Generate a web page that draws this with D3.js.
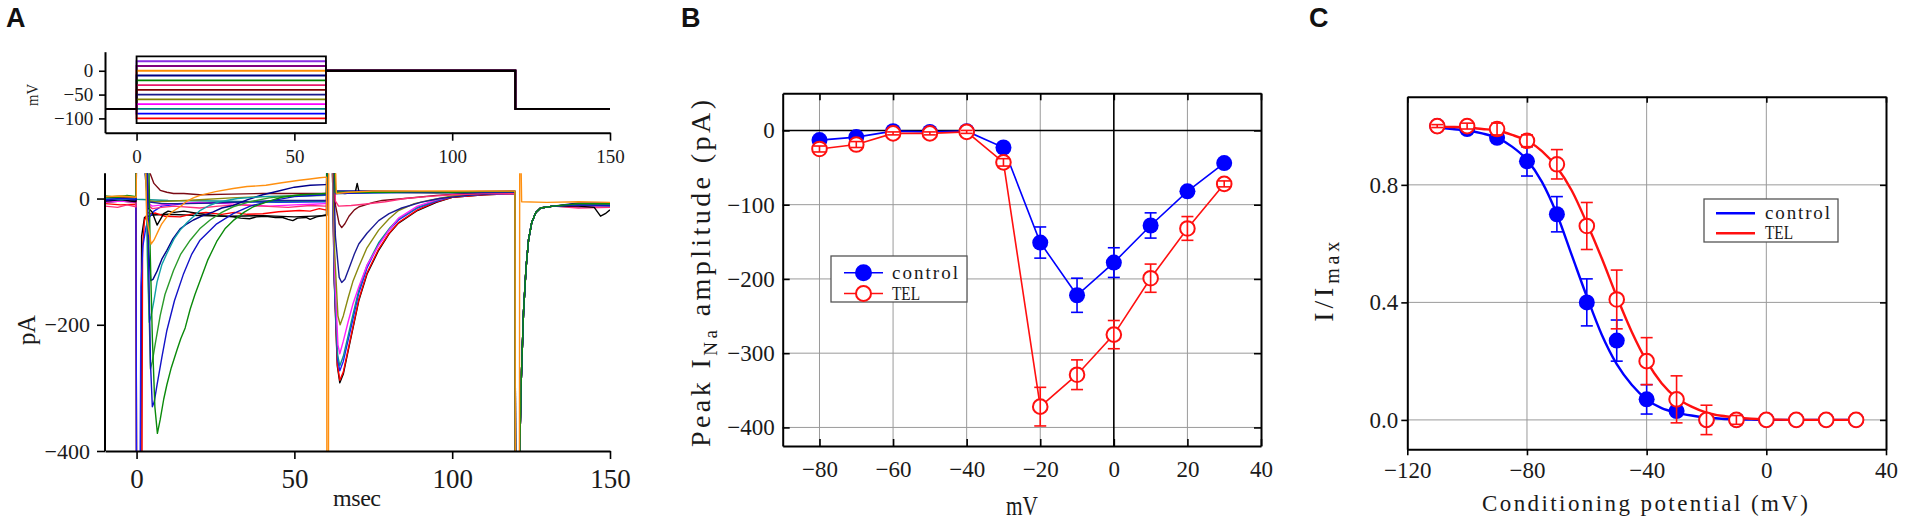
<!DOCTYPE html>
<html>
<head>
<meta charset="utf-8">
<script src="https://cdn.jsdelivr.net/npm/d3@7"></script>
<style>
  body { margin: 0; background: #fff; }
  svg { display: block; }
  text { white-space: pre; }
</style>
</head>
<body>
<div id="chart"></div>
<script>
// ---------- Panel A: voltage protocol (mV) ----------
const stepLevels = [30, 20, 10, 0, -10, -20, -30, -40, -50, -60, -70, -80, -90, -100, -110];
const holdingV = -80;
const testV = 0;
const protocolTimes = [-10, 0, 60, 120, 150];

// ---------- Panel A: current traces [ms, pA] ----------
const offTail = [[120.05, -460], [121.2, -460], [121.8, -300], [122.6, -180], [123.4, -110], [124.2, -65], [125.2, -38], [126.5, -22], [128, -15], [132, -12]];

const trBlack110 = [[-10, -6], [-5, -4], [-0.2, -6], [0, -460], [1.3, -460], [1.6, -60], [2.5, -30], [5, -26], [10, -25], [20, -27], [30, -28], [40, -27], [50, -29], [59.8, -27], [60.2, -27], [60.4, 130], [61.8, 130], [62.6, -125], [63.6, -265], [64.4, -292], [65.5, -278], [67, -242], [68.5, -207], [70.4, -162], [73, -120], [76.7, -82], [80, -56], [83, -39], [89, -19], [95, -6], [100, 2], [110, 6], [119.9, 8]].concat(offTail, [[140, -11], [150, -11]]);
const trRed100 = [[-10, -8], [-5, -10], [-0.2, -9], [0, -460], [1.7, -460], [1.9, -80], [2.5, -35], [3.5, -22], [4.4, -24], [6, -23], [9, -28], [13.8, -29], [18, -24], [22, -22], [27, -25], [31, -22], [35, -25], [40, -24], [45, -21], [51.6, -19], [55, -20], [57.9, -16], [59.8, -18], [60.2, -18], [60.4, 130], [61.8, 130], [62.6, -120], [63.6, -262], [64.4, -288], [65.5, -275], [67, -240], [68.5, -205], [70.4, -160], [73, -118], [76.7, -80], [80, -55], [83, -38], [89, -18], [95, -5], [100, 2], [110, 6], [119.9, 8]].concat(offTail, [[140, -12], [150, -12]]);
const trBlue90 = [[-10, -3], [-5, -1], [-0.2, -2], [0, -460], [1.1, -460], [1.4, -140], [2, -75], [3, -45], [4, -30], [5.5, -20], [8, -12], [15, -8], [30, -5], [45, -6], [59.8, -5], [60.2, -5], [60.4, 130], [61.8, 130], [62.7, -135], [63.7, -255], [64.4, -273], [65.5, -258], [67, -225], [68.5, -192], [70.4, -150], [73, -110], [76.7, -72], [80, -50], [83, -34], [89, -15], [95, -4], [100, 3], [110, 7], [119.9, 8]].concat(offTail, [[140, -9], [150, -8]]);
const trTeal80 = [[-10, 0], [-5, 1], [-0.2, -1], [10, -3], [25, -4], [40, -5], [59.8, -4], [60.2, -4], [60.4, 130], [61.8, 130], [62.7, -130], [63.7, -248], [64.4, -265], [65.5, -250], [67, -218], [68.5, -185], [70.4, -145], [73, -106], [76.7, -70], [80, -48], [83, -32], [89, -14], [95, -3], [100, 3], [110, 7], [119.9, 8]].concat(offTail, [[140, -14], [150, -13]]);
const trMagenta70 = [[-10, -6], [-5, -4], [-0.2, -6], [0, 80], [2.8, 80], [3.8, -8], [5, -12], [8, -10], [13, -8], [20, -6], [28, -8], [35, -10], [42, -12], [50, -10], [56, -9], [59.8, -8], [60.2, -8], [60.4, 130], [61.8, 130], [62.8, -120], [63.8, -232], [64.4, -246], [65.5, -226], [67, -196], [68.5, -168], [70.4, -140], [73, -106], [76.7, -74], [80, -50], [83, -31], [89, -12], [95, -2], [100, 3], [110, 7], [119.9, 8]].concat(offTail, [[140, -12], [150, -11]]);
const trOlive60 = [[-10, 1], [-5, 2], [-0.2, 0], [0, 60], [2.5, 60], [3.5, -3], [6, -5], [12, -4], [20, -2], [30, 1], [40, 3], [50, 4], [59.8, 5], [60.2, 5], [60.4, 130], [61.8, 130], [62.8, -90], [63.8, -186], [64.5, -200], [65.5, -186], [67, -158], [68.5, -132], [70.4, -108], [73, -78], [76.7, -50], [80, -32], [83, -19], [88, -8], [92.5, -3], [100, 4], [110, 8], [119.9, 9]].concat(offTail, [[140, -8], [150, -9]]);
const trNavy50 = [[-10, -3], [-5, -1], [-0.2, -3], [0, 50], [2.5, 50], [3.5, -5], [8, -8], [15, -8], [25, -7], [35, -5], [45, -3], [59.8, -3], [60.2, -3], [60.4, 130], [62, 130], [63, -60], [64.2, -125], [65, -133], [66, -128], [67.5, -108], [69, -88], [70.4, -72], [73, -55], [76.7, -35], [80, -24], [84, -15], [90, -6], [96, 0], [105, 5], [119.9, 9]].concat(offTail, [[140, -10], [150, -10]]);
const trWine40 = [[-10, 1], [-5, 3], [-0.2, 2], [0, 130], [3.3, 130], [3.9, 45], [5.5, 24], [7.5, 13], [9.6, 10], [11.7, 8], [15, 8], [20, 6], [30, 7], [40, 8], [50, 8], [59.8, 8], [60.2, 8], [60.4, 130], [62, 130], [63, -10], [64.2, -40], [65, -46], [66, -40], [67.3, -28], [69, -18], [70.5, -13], [72.5, -10], [75, -6], [77.8, -3], [85, 0], [95, 5], [105, 8], [119.9, 9]].concat(offTail, [[140, -9], [150, -10]]);
const trPink30 = [[-10, -12], [-6, -14], [-3, -10], [-0.2, -13], [0, 100], [3, 100], [4, -12], [5, -16], [8, -14], [12, -12], [20, -15], [26, -12], [32, -10], [40, -12], [48, -14], [55, -11], [59.8, -12], [60.2, -12], [60.4, 130], [62, 130], [63, -4], [64, -12], [68, -11], [72, -9], [78.8, -5], [85, 0], [92, 3], [100, 6], [110, 8], [119.9, 8]].concat(offTail, [[140, -15], [150, -14]]);
const trBlack30 = [[-10, -4], [-5, -2], [-0.2, -5], [0, 130], [3, 130], [3.6, -15], [4.9, -21], [6.5, -42], [8.6, -24], [10, -20], [12, -22], [15, -20], [20, -24], [25, -27], [30.6, -29], [33, -31], [35.8, -32], [38, -29], [41, -28], [44, -30], [46.3, -30], [48, -33], [49.5, -35], [51, -31], [53.7, -30], [55, -33], [57, -29], [59.8, -26], [60.2, -26], [60.4, 130], [62, 130], [63, 10], [66, 8], [69.3, 10], [69.9, 24], [70.5, 10], [80, 10], [95, 9], [110, 10], [119.9, 10]].concat(offTail, [[140, -12], [145, -14], [147, -28], [148.5, -24], [150, -18]]);
const trNavy10 = [[-10, -3], [-5, -1], [-0.2, -2], [0, 130], [2.8, 130], [3.5, -60], [4.5, -130], [5.2, -128], [6.5, -115], [8, -96], [9.6, -82], [11.5, -64], [13.8, -48], [16, -40], [18, -34], [21, -27], [24.3, -21], [27, -15], [30.6, -11], [35, -2], [40, 6], [45, 12], [50, 18], [55, 21], [59.8, 22], [60.2, 22], [60.3, 130], [62, 130], [63, 12], [75, 12], [90, 11], [105, 11], [119.9, 12]].concat(offTail, [[140, -7], [150, -7]]);
const trTeal196 = [[-10, 0], [-5, -2], [-0.2, 0], [0, 130], [2.8, 130], [3.4, -90], [4, -196], [4.6, -186], [5.5, -162], [6.5, -132], [8, -105], [9.6, -87], [12, -63], [13.8, -50], [16, -38], [20.1, -19], [23, -11], [26.4, -5], [32, 0], [40, 3], [50, 4], [59.8, 5], [60.2, 5], [60.4, 130], [62, 130], [63, 8], [75, 9], [90, 10], [105, 10], [119.9, 10]].concat(offTail, [[140, -10], [150, -10]]);
const trGreen270 = [[-10, 2], [-5, 4], [-0.2, 3], [0, 130], [3, 130], [3.6, -100], [4.4, -270], [5, -258], [6, -228], [7.5, -185], [9, -152], [11.7, -114], [14, -88], [17, -66], [20, -48], [23.3, -34], [27, -22], [30.6, -13], [36, -5], [42, 1], [50, 5], [59.8, 7], [60.2, 7], [60.4, 130], [62, 130], [63, 9], [75, 10], [90, 10], [105, 11], [119.9, 10]].concat(offTail, [[140, -9], [150, -9]]);
const trBlue330 = [[-10, -2], [-5, 0], [-0.2, -1], [0, 130], [3.2, 130], [3.8, -90], [4.4, -260], [5, -330], [5.6, -322], [6.5, -295], [8, -252], [9.6, -209], [12, -162], [14.9, -119], [17.5, -88], [20.1, -66], [25.4, -40], [30.6, -24], [36, -12], [42, -4], [50, 3], [59.8, 6], [60.2, 6], [60.4, 130], [62, 130], [63, 8], [75, 9], [90, 10], [105, 9], [119.9, 10]].concat(offTail, [[140, -10], [150, -11]]);
const trGreen370 = [[-10, 4], [-6, 2], [-3, 5], [-0.2, 3], [0, 130], [3.7, 130], [4.3, -80], [5, -220], [5.8, -330], [6.6, -372], [7.5, -350], [8.6, -318], [9.6, -295], [11, -268], [12.8, -240], [14, -222], [15.4, -205], [17, -175], [18.5, -152], [20, -132], [22.5, -98], [25.4, -68], [28, -48], [30.6, -35], [34, -22], [37, -13], [42, -4], [46, 2], [52, 6], [56, 7], [59.8, 8], [60.2, 8], [60.4, 130], [62, 130], [63, 10], [70, 10], [80, 10], [90, 11], [100, 10], [110, 11], [119.9, 11]].concat(offTail, [[140, -8], [150, -8]]);
const trOrange0 = [[-10, 3], [-5, 4], [-0.1, 2], [0, 130], [2.5, 130], [3.2, -30], [4.6, -72], [5.5, -66], [7, -50], [8, -40], [9.6, -29], [11, -22], [13.8, -13], [16, -4], [18, 1], [20.1, 5], [25, 11], [30.6, 16], [35, 19], [41, 21], [46, 25], [51.6, 29], [55, 31], [58, 33], [60.2, 34], [60.3, -460], [60.8, -460], [60.9, 130], [62.5, 130], [63.3, 8], [67, 10], [75, 12], [85, 12], [95, 12], [105, 12], [119.9, 12], [120, -460], [121.3, -460], [121.4, 130], [121.6, 130], [122, -5], [130, -6], [140, -5], [150, -6]];

// ---------- Panel B: peak INa I-V ----------
const bVolt = [-80, -70, -60, -50, -40, -30, -20, -10, 0, 10, 20, 30];
const bControl = [-13, -9, -1, -2, -1, -23, -151, -222, -178, -128, -82, -44];
const bControlErr = [3, 3, 2, 2, 2, 4, 21, 23, 20, 17, 4, 3];
const bTEL = [-25, -19, -4, -4, -2, -43, -372, -329, -275, -199, -132, -72];
const bTELErr = [4, 4, 2, 2, 2, 5, 26, 20, 19, 19, 16, 4];

// ---------- Panel C: steady-state inactivation ----------
const cVolt = [-110, -100, -90, -80, -70, -60, -50, -40, -30, -20, -10, 0, 10, 20, 30];
const cControl = [1.0, 0.99, 0.96, 0.88, 0.70, 0.40, 0.27, 0.07, 0.03, 0.0, 0.0, 0.0, 0.0, 0.0, 0.0];
const cControlErr = [0.005, 0.01, 0.015, 0.05, 0.06, 0.08, 0.07, 0.05, 0.01, 0.01, 0, 0, 0, 0, 0];
const cTEL = [1.0, 1.0, 0.99, 0.95, 0.87, 0.66, 0.41, 0.20, 0.07, 0.0, 0.0, 0.0, 0.0, 0.0, 0.0];
const cTELErr = [0.005, 0.01, 0.02, 0.02, 0.05, 0.08, 0.10, 0.08, 0.08, 0.05, 0.015, 0, 0, 0, 0];
// fitted curves
const fitVolt = [-110, -105, -100, -95, -90, -85, -80, -75, -70, -65, -60, -55, -50, -45, -40, -35, -30, -25, -20, -15, -10, -5, 0, 10, 20, 30];
const fitControl = [0.995, 0.99, 0.985, 0.975, 0.96, 0.93, 0.885, 0.81, 0.70, 0.56, 0.42, 0.29, 0.19, 0.12, 0.07, 0.04, 0.025, 0.015, 0.008, 0.004, 0.002, 0.001, 0, 0, 0, 0];
const fitTEL = [0.998, 0.997, 0.995, 0.99, 0.985, 0.97, 0.95, 0.915, 0.86, 0.78, 0.67, 0.55, 0.42, 0.30, 0.20, 0.125, 0.075, 0.045, 0.025, 0.014, 0.008, 0.004, 0.002, 0, 0, 0];

// ==========================================================
const serif = '"Liberation Serif", "Times New Roman", serif';
const ink = '#1a1a1a';
const blue = '#0000ff', red = '#ff1010';

const svg = d3.select('#chart').append('svg')
  .attr('width', 1905)
  .attr('height', 523)
  .style('background', '#fff');

function styleAxis(g, fs, sw) {
  g.attr('font-size', null).attr('font-family', null);
  g.select('.domain').attr('stroke', '#000').attr('stroke-width', sw || 2);
  g.selectAll('.tick line').attr('stroke', '#000').attr('stroke-width', 1.6);
  g.selectAll('.tick text').attr('font-size', fs).attr('font-family', serif).attr('fill', ink);
  return g;
}
function minorAxis(g, axis, vals) {
  g.call(axis.tickValues(vals).tickFormat(() => ''));
  g.select('.domain').remove();
  g.selectAll('.tick line').attr('stroke', '#000').attr('stroke-width', 1.6);
}
function label(x, y, txt, fs, len, rot, adjust) {
  const t = svg.append('text')
    .attr('transform', `translate(${x},${y})` + (rot ? ' rotate(-90)' : ''))
    .attr('text-anchor', 'middle')
    .attr('font-family', serif)
    .attr('font-size', fs)
    .attr('fill', ink)
    .text(txt);
  if (len) t.attr('textLength', len).attr('lengthAdjust', adjust || 'spacing');
  return t;
}
function panelLetter(x, txt) {
  svg.append('text').attr('x', x).attr('y', 27)
    .attr('font-family', '"Liberation Sans", Arial, sans-serif')
    .attr('font-weight', 'bold').attr('font-size', 27).attr('fill', '#111')
    .text(txt);
}
const fmt = d3.format('d');

// ---------------- Panel A ----------------
panelLetter(6, 'A');
const xA = d3.scaleLinear().domain([-10, 150]).range([105, 610]);
const yAv = d3.scaleLinear().domain([-130, 40]).range([132.7, 51.7]);
const yAi = d3.scaleLinear().domain([-400, 40]).range([451, 173.3]);

// protocol
const protoLine = d3.line().x(d => xA(d[0])).y(d => yAv(d[1]));
const protoColors = ['#000000', '#8a2be2', '#800080', '#ff8c00', '#000080', '#008000', '#e8186a', '#800000', '#1a1a8c', '#808000', '#ff00ff', '#008080', '#0000ff', '#ff0000', '#000000'];
function protocolPoints(v) {
  const t = protocolTimes;
  return [[t[0], holdingV], [t[1], holdingV], [t[1], v], [t[2], v], [t[2], testV], [t[3], testV], [t[3], holdingV], [t[4], holdingV]];
}
const protoOrder = d3.range(stepLevels.length).filter(i => protoColors[i] !== '#000000')
  .concat(d3.range(stepLevels.length).filter(i => protoColors[i] === '#000000'));
svg.append('g').selectAll('path').data(protoOrder).join('path')
  .attr('d', i => protoLine(protocolPoints(stepLevels[i])))
  .attr('fill', 'none').attr('stroke', i => protoColors[i]).attr('stroke-width', 1.8);

const gAvY = svg.append('g').attr('transform', `translate(${xA.range()[0]},0)`);
minorAxis(gAvY, d3.axisLeft(yAv).tickSize(5), [25, -25, -75, -125]);
gAvY.call(d3.axisLeft(yAv).tickValues([-100, -50, 0]).tickSize(6).tickPadding(5.7).tickSizeOuter(0).tickFormat(fmt));
styleAxis(gAvY, 19);
const gAvX = svg.append('g').attr('transform', `translate(0,${yAv.range()[0]})`);
minorAxis(gAvX, d3.axisBottom(xA).tickSize(6), [25, 75, 125]);
gAvX.call(d3.axisBottom(xA).tickValues([0, 50, 100, 150]).tickSize(8).tickPadding(9).tickSizeOuter(0).tickFormat(fmt));
styleAxis(gAvX, 19);
label(38, 95, 'mV', 16, 22, true, 'spacingAndGlyphs');

// traces
svg.append('clipPath').attr('id', 'clipA')
  .append('rect').attr('x', xA.range()[0]).attr('y', yAi.range()[1])
  .attr('width', xA.range()[1] - xA.range()[0]).attr('height', yAi.range()[0] - yAi.range()[1]);
const traceList = [trBlack110, trRed100, trBlue90, trTeal80, trMagenta70, trOlive60, trNavy50, trWine40, trPink30, trBlack30, trNavy10, trTeal196, trGreen270, trBlue330, trGreen370, trOrange0];
const traceColors = ['#000000', '#ff0000', '#1a1aff', '#0a8f8f', '#ff1cff', '#8a8a10', '#1b1b95', '#7a0a14', '#ff2f7a', '#000000', '#00008c', '#10a0a8', '#2a9a2a', '#1212c8', '#0a8a0a', '#ff9010'];
const traceLine = d3.line().x(d => xA(d[0])).y(d => yAi(d[1]));
svg.append('g').attr('clip-path', 'url(#clipA)')
  .selectAll('path').data(traceList).join('path')
  .attr('d', traceLine)
  .attr('fill', 'none')
  .attr('stroke', (d, i) => traceColors[i])
  .attr('stroke-width', 1.4)
  .attr('stroke-linejoin', 'round');

const gAiY = svg.append('g').attr('transform', `translate(${xA.range()[0]},0)`);
minorAxis(gAiY, d3.axisLeft(yAi).tickSize(6), [-100, -300]);
gAiY.call(d3.axisLeft(yAi).tickValues([-400, -200, 0]).tickSize(8).tickPadding(7).tickSizeOuter(0).tickFormat(fmt));
styleAxis(gAiY, 22);
gAiY.select('.domain').attr('d', `M0,${yAi.range()[1]}V${yAi.range()[0]}`);
const gAiX = svg.append('g').attr('transform', `translate(0,${yAi.range()[0]})`);
minorAxis(gAiX, d3.axisBottom(xA).tickSize(6), [25, 75, 125]);
gAiX.call(d3.axisBottom(xA).tickValues([0, 50, 100, 150]).tickSize(8).tickPadding(10).tickSizeOuter(0).tickFormat(fmt));
styleAxis(gAiX, 27);
label(35, 330, 'pA', 25, 30, true);
label(357, 506, 'msec', 24, 48);

// ---------------- framed plot helper (B, C) ----------------
function framedPlot(x, y, o) {
  const [x0, x1] = x.range();
  const [y0, y1] = y.range(); // y0 bottom, y1 top
  const g = svg.append('g');
  // grid
  g.selectAll('.gx').data(o.gridX).join('line')
    .attr('x1', d => x(d)).attr('x2', d => x(d)).attr('y1', y1).attr('y2', y0)
    .attr('stroke', '#9a9a9a').attr('stroke-width', 1);
  g.selectAll('.gy').data(o.gridY).join('line')
    .attr('x1', x0).attr('x2', x1).attr('y1', d => y(d)).attr('y2', d => y(d))
    .attr('stroke', '#9a9a9a').attr('stroke-width', 1);
  // axes
  const ts = o.tickSize, tm = o.minorSize;
  const bottom = svg.append('g').attr('transform', `translate(0,${y0})`);
  minorAxis(bottom, d3.axisBottom(x).tickSize(tm), o.minorX);
  bottom.call(d3.axisBottom(x).tickValues(o.majorX).tickSize(ts).tickPadding(o.padX).tickSizeOuter(0).tickFormat(o.fmtX));
  styleAxis(bottom, 23);
  const left = svg.append('g').attr('transform', `translate(${x0},0)`);
  minorAxis(left, d3.axisLeft(y).tickSize(tm), o.minorY);
  left.call(d3.axisLeft(y).tickValues(o.majorY).tickSize(ts).tickPadding(o.padY).tickSizeOuter(0).tickFormat(o.fmtY));
  styleAxis(left, 23);
  const top = svg.append('g').attr('transform', `translate(0,${y1})`);
  minorAxis(top, d3.axisTop(x).tickSize(-Math.abs(tm)), o.minorX);
  top.call(d3.axisTop(x).tickValues(o.majorX).tickSize(-Math.abs(ts)).tickSizeOuter(0).tickFormat(() => ''));
  styleAxis(top, 23);
  const right = svg.append('g').attr('transform', `translate(${x1},0)`);
  minorAxis(right, d3.axisRight(y).tickSize(-Math.abs(tm)), o.minorY);
  right.call(d3.axisRight(y).tickValues(o.majorY).tickSize(-Math.abs(ts)).tickSizeOuter(0).tickFormat(() => ''));
  styleAxis(right, 23);
  return g;
}

function errorBars(g, xs, ys, es, x, y, color) {
  const eb = g.append('g').attr('stroke', color).attr('stroke-width', 1.6).attr('fill', 'none');
  xs.forEach((v, i) => {
    if (!es[i]) return;
    const cx = x(v), top = y(ys[i] + es[i]), bot = y(ys[i] - es[i]);
    eb.append('line').attr('x1', cx).attr('x2', cx).attr('y1', top).attr('y2', bot);
    eb.append('line').attr('x1', cx - 6).attr('x2', cx + 6).attr('y1', top).attr('y2', top);
    eb.append('line').attr('x1', cx - 6).attr('x2', cx + 6).attr('y1', bot).attr('y2', bot);
  });
}

function legendBox(x0, y0, w, h, rows, withMarker) {
  const g = svg.append('g');
  g.append('rect').attr('x', x0).attr('y', y0).attr('width', w).attr('height', h)
    .attr('fill', '#fff').attr('stroke', '#555').attr('stroke-width', 1.3);
  rows.forEach(r => {
    g.append('line').attr('x1', r.lx0).attr('x2', r.lx1).attr('y1', r.y).attr('y2', r.y)
      .attr('stroke', r.color).attr('stroke-width', withMarker ? 1.6 : 2.6);
    if (withMarker) {
      g.append('circle').attr('cx', (r.lx0 + r.lx1) / 2).attr('cy', r.y).attr('r', 7.5)
        .attr('fill', r.filled ? r.color : '#fff').attr('stroke', r.color).attr('stroke-width', 2);
    }
    g.append('text').attr('x', r.tx).attr('y', r.y + 6)
      .attr('font-family', serif).attr('font-size', 19).attr('fill', ink)
      .attr('textLength', r.len).attr('lengthAdjust', r.adjust || 'spacing')
      .text(r.label);
  });
}

// ---------------- Panel B ----------------
panelLetter(681, 'B');
const xB = d3.scaleLinear().domain([-90, 40]).range([782.7, 1261]);
const yB = d3.scaleLinear().domain([-425, 50]).range([446, 93.3]);
const gB = framedPlot(xB, yB, {
  gridX: [-80, -60, -40, -20, 20], gridY: [-100, -200, -300, -400],
  majorX: [-80, -60, -40, -20, 0, 20, 40], minorX: [-70, -50, -30, -10, 10, 30],
  majorY: [-400, -300, -200, -100, 0], minorY: [-350, -250, -150, -50],
  tickSize: -7, minorSize: -4.5, padX: 15, padY: 8, fmtX: fmt, fmtY: fmt
});
gB.append('line').attr('x1', xB(0)).attr('x2', xB(0)).attr('y1', yB.range()[1]).attr('y2', yB.range()[0])
  .attr('stroke', '#000').attr('stroke-width', 1.6);
gB.append('line').attr('x1', xB.range()[0]).attr('x2', xB.range()[1]).attr('y1', yB(0)).attr('y2', yB(0))
  .attr('stroke', '#000').attr('stroke-width', 1.6);

const lineB = d3.line().x((d, i) => xB(bVolt[i])).y(d => yB(d));
gB.append('path').attr('d', lineB(bControl)).attr('fill', 'none').attr('stroke', blue).attr('stroke-width', 1.6);
gB.append('path').attr('d', lineB(bTEL)).attr('fill', 'none').attr('stroke', red).attr('stroke-width', 1.6);
errorBars(gB, bVolt, bControl, bControlErr, xB, yB, blue);
gB.append('g').selectAll('circle').data(bControl).join('circle')
  .attr('cx', (d, i) => xB(bVolt[i])).attr('cy', d => yB(d)).attr('r', 8).attr('fill', blue);
gB.append('g').selectAll('circle').data(bTEL).join('circle')
  .attr('cx', (d, i) => xB(bVolt[i])).attr('cy', d => yB(d)).attr('r', 7.3)
  .attr('fill', '#fff').attr('stroke', red).attr('stroke-width', 2);
errorBars(gB, bVolt, bTEL, bTELErr, xB, yB, red);

legendBox(831, 256, 136, 46, [
  { y: 272.7, lx0: 844, lx1: 883, tx: 892, len: 66, label: 'control', color: blue, filled: true },
  { y: 293.5, lx0: 844, lx1: 883, tx: 892, len: 28, label: 'TEL', color: red, filled: false, adjust: 'spacingAndGlyphs' }
], true);

const ytB = svg.append('text')
  .attr('transform', 'translate(710,273.5) rotate(-90)')
  .attr('text-anchor', 'middle').attr('font-family', serif).attr('font-size', 28).attr('fill', ink)
  .attr('textLength', 347).attr('lengthAdjust', 'spacing');
ytB.append('tspan').text('Peak I');
ytB.append('tspan').attr('font-size', 19).attr('dy', 7).text('Na');
ytB.append('tspan').attr('dy', -7).text(' amplitude (pA)');
label(1022, 515, 'mV', 27, 32, false, 'spacingAndGlyphs');

// ---------------- Panel C ----------------
panelLetter(1309, 'C');
const xC = d3.scaleLinear().domain([-120, 40]).range([1407.3, 1886]);
const yC = d3.scaleLinear().domain([-0.1, 1.1]).range([449.3, 96.7]);
const gC = framedPlot(xC, yC, {
  gridX: [-80, -40, 0], gridY: [0, 0.4, 0.8],
  majorX: [-120, -80, -40, 0, 40], minorX: [-100, -60, -20, 20],
  majorY: [0, 0.4, 0.8], minorY: [0.2, 0.6, 1.0],
  tickSize: 6, minorSize: 4, padX: 6.5, padY: 3, fmtX: fmt, fmtY: d3.format('.1f')
});
const fitLineC = d3.line().x((d, i) => xC(fitVolt[i])).y(d => yC(d)).curve(d3.curveMonotoneX);
gC.append('path').attr('d', fitLineC(fitControl)).attr('fill', 'none').attr('stroke', blue).attr('stroke-width', 2.4);
gC.append('path').attr('d', fitLineC(fitTEL)).attr('fill', 'none').attr('stroke', red).attr('stroke-width', 2.4);
errorBars(gC, cVolt, cControl, cControlErr, xC, yC, blue);
gC.append('g').selectAll('circle').data(cControl).join('circle')
  .attr('cx', (d, i) => xC(cVolt[i])).attr('cy', d => yC(d)).attr('r', 8).attr('fill', blue);
gC.append('g').selectAll('circle').data(cTEL).join('circle')
  .attr('cx', (d, i) => xC(cVolt[i])).attr('cy', d => yC(d)).attr('r', 7.3)
  .attr('fill', '#fff').attr('stroke', red).attr('stroke-width', 2);
errorBars(gC, cVolt, cTEL, cTELErr, xC, yC, red);

legendBox(1704, 199, 134, 43, [
  { y: 213.3, lx0: 1716, lx1: 1755, tx: 1765, len: 65, label: 'control', color: blue },
  { y: 233.3, lx0: 1716, lx1: 1755, tx: 1765, len: 28, label: 'TEL', color: red, adjust: 'spacingAndGlyphs' }
], false);

const ytC = svg.append('text')
  .attr('transform', 'translate(1333,281.7) rotate(-90)')
  .attr('text-anchor', 'middle').attr('font-family', serif).attr('font-size', 28).attr('fill', ink)
  .attr('textLength', 80).attr('lengthAdjust', 'spacing');
ytC.append('tspan').text('I/I');
ytC.append('tspan').attr('font-size', 20).attr('dy', 6).text('max');
label(1645, 511, 'Conditioning potential (mV)', 23, 326);
</script>
</body>
</html>
